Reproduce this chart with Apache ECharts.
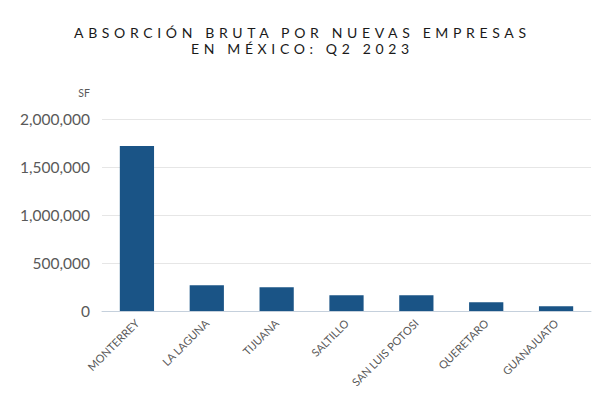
<!DOCTYPE html>
<html>
<head>
<meta charset="utf-8">
<script src="https://cdn.jsdelivr.net/npm/echarts@6/dist/echarts.min.js"></script>
<style>
  html, body { margin: 0; padding: 0; background: #fff; }
  #chart { width: 600px; height: 400px; }
</style>
</head>
<body>
<div id="chart"></div>
<script>
const cities = ['MONTERREY', 'LA LAGUNA', 'TIJUANA', 'SALTILLO', 'SAN LUIS POTOSI', 'QUERETARO', 'GUANAJUATO'];
const absorption = [1718000, 268000, 247000, 164000, 163000, 91000, 49000];
const titleLines = ['ABSORCIÓN BRUTA POR NUEVAS EMPRESAS', 'EN MÉXICO: Q2 2023'];
const titleWidths = [452, 218]; // spread letters like the original's tracked title

const labelColor = '#595959';
const chart = echarts.init(document.getElementById('chart'), null, { renderer: 'svg' });
const option = {
  animation: false,
  title: {
    text: titleLines.join('\n'),
    left: 'center',
    top: 20,
    textStyle: {
      fontFamily: 'Lato',
      fontSize: 14,
      fontWeight: 'normal',
      color: '#1a1a1a',
      lineHeight: 15.6
    }
  },
  graphic: [{
    type: 'text',
    x: 90,
    y: 93,
    style: {
      text: 'SF',
      align: 'right',
      verticalAlign: 'middle',
      fontFamily: 'Lato',
      fontSize: 10.5,
      fill: labelColor
    }
  }],
  grid: {
    left: 102,
    right: 9,
    top: 119,
    bottom: 89
  },
  xAxis: {
    type: 'category',
    data: cities,
    axisLine: { lineStyle: { color: '#c5d0dc' } },
    axisTick: { show: false },
    axisLabel: {
      rotate: 45,
      interval: 0,
      margin: 10,
      color: labelColor,
      fontFamily: 'Lato',
      fontSize: 11
    }
  },
  yAxis: {
    type: 'value',
    min: 0,
    max: 2000000,
    interval: 500000,
    axisLine: { show: false },
    axisTick: { show: false },
    splitLine: { lineStyle: { color: '#e6e6e6' } },
    axisLabel: {
      margin: 12,
      color: labelColor,
      fontFamily: 'Lato',
      fontSize: 15.5,
      formatter: v => v.toLocaleString('en-US')
    }
  },
  series: [{
    type: 'bar',
    data: absorption,
    barWidth: '49%',
    itemStyle: { color: '#1a5486' }
  }]
};
chart.setOption(option);

// tracking for the title lines (svg renderer only)
document.querySelectorAll('#chart text').forEach(t => {
  const i = titleLines.indexOf(t.textContent);
  if (i >= 0) {
    t.setAttribute('textLength', titleWidths[i]);
    t.setAttribute('lengthAdjust', 'spacing');
  }
});
</script>
</body>
</html>
